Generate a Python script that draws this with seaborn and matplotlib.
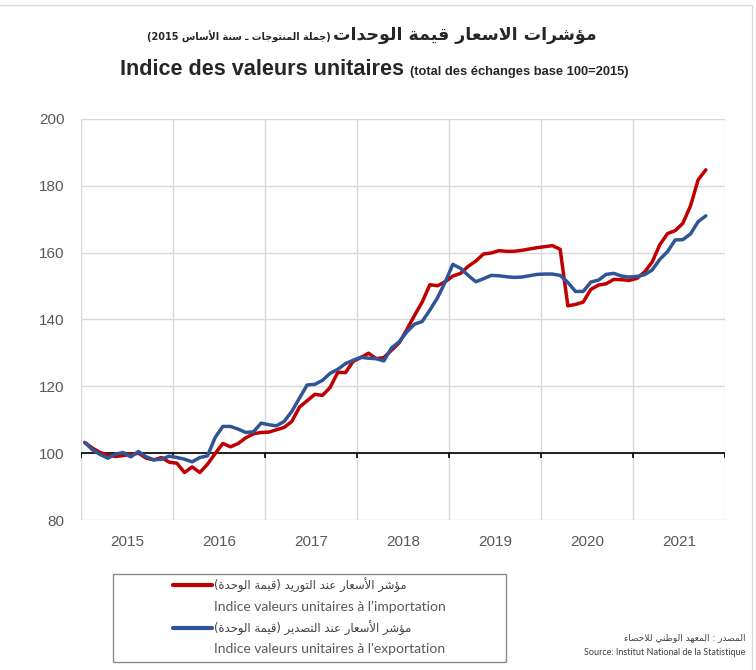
import re
import pandas as pd
import matplotlib
matplotlib.use("Agg")
import matplotlib.pyplot as plt
import seaborn as sns
from matplotlib.lines import Line2D
from matplotlib.patches import Rectangle

# monthly unit value indices (base 100 = 2015), Jan 2015 -> Oct 2021
start_month = "2015-01"
import_index = [
    103.2, 101.5, 100.2, 99.4, 99.0, 99.3, 99.6, 100.0, 98.5, 98.0, 98.7, 97.3,
    97.0, 94.2, 95.9, 94.2, 96.7, 99.9, 102.9, 101.9, 102.9, 104.6, 105.8, 106.2,
    106.3, 107.0, 107.7, 109.5, 113.8, 115.7, 117.6, 117.3, 119.7, 124.2, 124.1, 127.5,
    128.6, 129.9, 128.3, 128.6, 130.8, 133.0, 137.0, 141.2, 145.2, 150.4, 150.1, 151.3,
    153.0, 153.8, 155.9, 157.5, 159.6, 159.9, 160.6, 160.4, 160.4, 160.7, 161.1, 161.5,
    161.8, 162.1, 161.0, 144.1, 144.5, 145.2, 149.0, 150.3, 150.7, 152.0, 151.9, 151.7,
    152.3, 154.2, 157.2, 162.4, 165.7, 166.6, 168.8, 174.0, 181.8, 184.8,
]
export_index = [
    103.2, 101.0, 99.6, 98.5, 99.7, 100.2, 98.9, 100.5, 98.9, 98.0, 98.2, 99.1,
    98.7, 98.2, 97.4, 98.7, 99.2, 104.7, 108.0, 108.0, 107.2, 106.2, 106.4, 109.0,
    108.5, 108.2, 109.5, 112.5, 116.5, 120.4, 120.6, 121.8, 123.9, 125.1, 126.8, 127.8,
    128.7, 128.4, 128.3, 127.6, 131.5, 133.3, 136.3, 138.6, 139.4, 142.8, 146.5, 151.2,
    156.5, 155.3, 153.2, 151.3, 152.2, 153.2, 153.1, 152.8, 152.6, 152.7, 153.1, 153.5,
    153.6, 153.6, 153.2, 151.1, 148.4, 148.4, 151.2, 151.8, 153.5, 153.8, 153.0, 152.7,
    152.9, 153.4, 154.8, 158.0, 160.3, 163.8, 163.9, 165.6, 169.3, 171.0,
]
years = [2015, 2016, 2017, 2018, 2019, 2020, 2021]
y_ticks = [80, 100, 120, 140, 160, 180, 200]

title_ar = "مؤشرات الاسعار قيمة الوحدات"
subtitle_ar = "(جملة المنتوجات ـ سنة الأساس 2015)"
title_fr = "Indice des valeurs unitaires"
subtitle_fr = "(total des échanges base 100=2015)"
import_ar = "مؤشر الأسعار عند التوريد (قيمة الوحدة)"
import_fr = "Indice valeurs unitaires à l’importation"
export_ar = "مؤشر الأسعار عند التصدير (قيمة الوحدة)"
export_fr = "Indice valeurs unitaires à l'exportation"
source_ar = "المصدر : المعهد الوطني للاحصاء"
source_fr = "Source: Institut National de la Statistique"

RED = "#C00000"
BLUE = "#2F5597"
GREY = "#595959"

# --- tiny Arabic shaper (matplotlib has no shaping / bidi) ---
# letter -> (first presentation form, number of forms)
FORMS = {
    "ء": (0xFE80, 1), "آ": (0xFE81, 2), "أ": (0xFE83, 2), "ؤ": (0xFE85, 2),
    "إ": (0xFE87, 2), "ئ": (0xFE89, 4), "ا": (0xFE8D, 2), "ب": (0xFE8F, 4),
    "ة": (0xFE93, 2), "ت": (0xFE95, 4), "ث": (0xFE99, 4), "ج": (0xFE9D, 4),
    "ح": (0xFEA1, 4), "خ": (0xFEA5, 4), "د": (0xFEA9, 2), "ذ": (0xFEAB, 2),
    "ر": (0xFEAD, 2), "ز": (0xFEAF, 2), "س": (0xFEB1, 4), "ش": (0xFEB5, 4),
    "ص": (0xFEB9, 4), "ض": (0xFEBD, 4), "ط": (0xFEC1, 4), "ظ": (0xFEC5, 4),
    "ع": (0xFEC9, 4), "غ": (0xFECD, 4), "ف": (0xFED1, 4), "ق": (0xFED5, 4),
    "ك": (0xFED9, 4), "ل": (0xFEDD, 4), "م": (0xFEE1, 4), "ن": (0xFEE5, 4),
    "ه": (0xFEE9, 4), "و": (0xFEED, 2), "ى": (0xFEEF, 2), "ي": (0xFEF1, 4),
}
LAM_ALEF = {"آ": 0xFEF5, "أ": 0xFEF7, "إ": 0xFEF9, "ا": 0xFEFB}


def rtl(text):
    tokens = []
    i = 0
    while i < len(text):
        c = text[i]
        if c == "ل" and i + 1 < len(text) and text[i + 1] in LAM_ALEF:
            tokens.append((LAM_ALEF[text[i + 1]], 2))
            i += 2
        elif c in FORMS:
            tokens.append(FORMS[c])
            i += 1
        else:
            tokens.append((c, 0))
            i += 1
    out = []
    for k, (base, n) in enumerate(tokens):
        if n == 0:
            out.append(base)
            continue
        prev_joins = k > 0 and tokens[k - 1][1] == 4
        next_joins = n == 4 and k + 1 < len(tokens) and tokens[k + 1][1] >= 2
        if n == 1:
            form = 0
        elif prev_joins and next_joins:
            form = 3
        elif prev_joins:
            form = 1
        elif next_joins:
            form = 2
        else:
            form = 0
        out.append(chr(base + form))
    s = "".join(out)[::-1]
    s = re.sub(r"[0-9A-Za-z.=]+", lambda m: m.group(0)[::-1], s)
    return s.translate(str.maketrans("()", ")("))


# --- data frame ---
months = pd.date_range(start_month, periods=len(import_index), freq="MS")
xpos = months.year + (months.month - 0.5) / 12
df = pd.concat([
    pd.DataFrame({"x": xpos, "value": import_index, "series": "import"}),
    pd.DataFrame({"x": xpos, "value": export_index, "series": "export"}),
])

sns.set_style("white")
plt.rcParams["font.family"] = ["Liberation Sans", "DejaVu Sans"]

W, H = 756, 670
fx = lambda px: px / W
fy = lambda py: 1 - py / H

fig = plt.figure(figsize=(W / 100, H / 100), dpi=100)
ax = fig.add_axes([fx(81), fy(520), 644 / W, 401 / H])

sns.lineplot(data=df, x="x", y="value", hue="series",
             palette={"import": RED, "export": BLUE},
             linewidth=2.5, legend=False, ax=ax, zorder=3)

edges = years + [years[-1] + 1]
ax.set_xlim(edges[0], edges[-1])
ax.set_ylim(y_ticks[0], y_ticks[-1])
ax.set_xticks(edges)
ax.set_xticklabels([])
ax.set_xticks([y + 0.5 for y in years], minor=True)
ax.set_xticklabels([str(y) for y in years], minor=True)
ax.set_yticks(y_ticks)
ax.tick_params(axis="x", which="both", length=0, pad=11, labelsize=11, labelcolor=GREY)
ax.tick_params(axis="y", length=0, pad=12, labelsize=11, labelcolor=GREY)
ax.grid(True, which="major", color="#d9d9d9", linewidth=1)
for s in ax.spines.values():
    s.set_visible(False)
ax.set_xlabel("")
ax.set_ylabel("")

# base line at 100 with small year ticks
ax.axhline(100, color="black", linewidth=1.2, zorder=2)
ax.vlines(edges, 98.5, 100, color="black", linewidth=1.2, zorder=2)

# titles
fig.text(fx(597), fy(40), rtl(title_ar), ha="right", va="baseline",
         fontsize=12.5, fontweight="bold", family=["DejaVu Sans"])
fig.text(fx(331), fy(41), rtl(subtitle_ar), ha="right", va="baseline",
         fontsize=7, fontweight="bold", family=["DejaVu Sans"])
fig.text(fx(404), fy(75), title_fr, ha="right", va="baseline",
         fontsize=15.6, fontweight="bold")
fig.text(fx(410), fy(75), subtitle_fr, ha="left", va="baseline",
         fontsize=9.3, fontweight="bold")

# legend: frame + 4 rows
fig.add_artist(Rectangle((fx(113), fy(662)), 393 / W, 88 / H, transform=fig.transFigure,
                         fill=False, edgecolor="#8c8c8c", linewidth=1))
handles = [Line2D([], [], color=RED, linewidth=3), Line2D([], [], color="none"),
           Line2D([], [], color=BLUE, linewidth=3), Line2D([], [], color="none")]
labels = [rtl(import_ar), import_fr, rtl(export_ar), export_fr]
leg = fig.legend(handles, labels, loc="upper left", bbox_to_anchor=(fx(173), fy(578)),
                 frameon=False, fontsize=10, handlelength=2.8, handletextpad=0.15,
                 labelspacing=0.55, borderpad=0, borderaxespad=0)
for i, t in enumerate(leg.get_texts()):
    t.set_color(GREY if i % 2 else "#404040")
    if i % 2 == 0:
        t.set_fontfamily(["DejaVu Sans"])
        t.set_fontsize(8.4)
    else:
        t.set_fontfamily(["Lato", "DejaVu Sans"])

# source
fig.text(fx(745), fy(640), rtl(source_ar), ha="right", va="baseline",
         fontsize=6.5, color="#404040", family=["DejaVu Sans"])
fig.text(fx(745), fy(655), source_fr, ha="right", va="baseline",
         fontsize=6.5, color="#404040", family=["Lato", "DejaVu Sans"])

# outer frame lines of the chart area
fig.add_artist(Line2D([0, fx(752)], [fy(5), fy(5)], transform=fig.transFigure,
                      color="#d9d9d9", linewidth=1))
fig.add_artist(Line2D([fx(752), fx(752)], [fy(5), 0], transform=fig.transFigure,
                      color="#d9d9d9", linewidth=1))

fig.savefig("out.png", dpi=100)
